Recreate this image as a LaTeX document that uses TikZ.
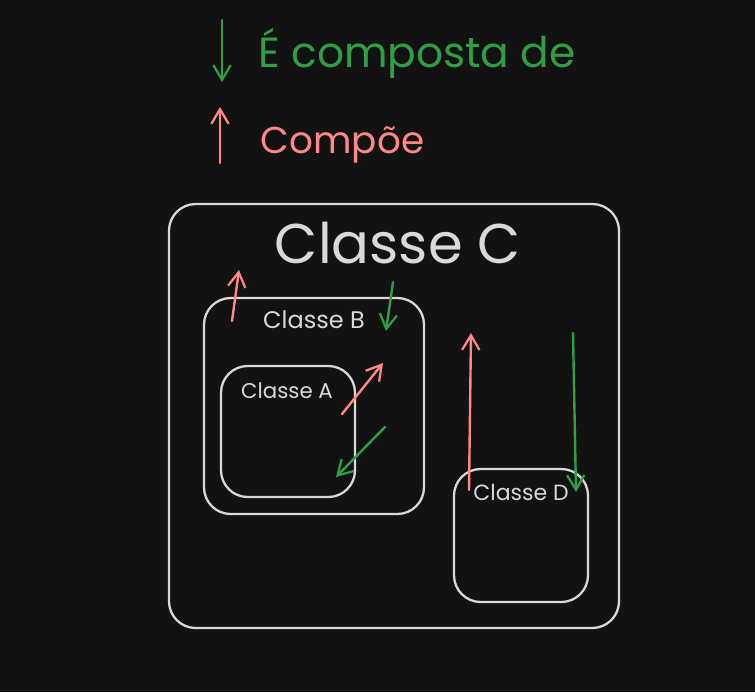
\documentclass[tikz,border=0pt]{standalone}
\usepackage{fontspec}
\setmainfont{Poppins}
\usepackage{xcolor}
\usepackage{tikz}
\usetikzlibrary{arrows.meta}
\definecolor{bg}{HTML}{121212}
\definecolor{chalk}{HTML}{D9D9D9}
\definecolor{leafgreen}{HTML}{2F9E44}
\definecolor{salmon}{HTML}{FF8787}
\newcommand{\pxu}{0.75pt}
\tikzset{
  >={Straight Barb[length=11pt,width=13pt,line width=1.7pt]},
  classbox/.style={draw=chalk,rounded corners=20pt,line width=1.7pt,inner sep=0pt},
  classname/.style={text=chalk,anchor=base},
  legendtext/.style={anchor=base west},
  composes/.style={->,line width=1.8pt,color=salmon,line cap=round},
  madeof/.style={->,line width=1.8pt,color=leafgreen,line cap=round},
}

\begin{document}
\begin{tikzpicture}[x=0.75pt,y=-0.75pt]
  \fill[bg] (0,0) rectangle (755,692);

  \coordinate (keyDownTop) at (222,20);
  \coordinate (keyDownEnd) at (222,82);
  \draw[madeof] (keyDownTop) -- (keyDownEnd);
  \node[legendtext,text=leafgreen,font=\fontsize{31.7}{36}\selectfont] (keyMadeOf) at (254,68) {É composta de};
  \coordinate (keyUpTail) at (220,163);
  \coordinate (keyUpEnd) at (220,107);
  \draw[composes] (keyUpTail) -- (keyUpEnd);
  \node[legendtext,text=salmon,font=\fontsize{28}{33}\selectfont] (keyComposes) at (256,153) {Compõe};

  \node[classbox,minimum width=450*\pxu,minimum height=424*\pxu] (clsC) at (394,416) {};
  \node[classname,font=\fontsize{42}{48}\selectfont] (nameC) at (398,263) {Classe C};

  \node[classbox,minimum width=220*\pxu,minimum height=216*\pxu] (clsB) at (314,406) {};
  \node[classname,font=\fontsize{18}{22}\selectfont] (nameB) at (314,328) {Classe B};

  \node[classbox,minimum width=134*\pxu,minimum height=131*\pxu] (clsA) at (288,431.5) {};
  \node[classname,font=\fontsize{16}{20}\selectfont] (nameA) at (287,398) {Classe A};

  \node[classbox,minimum width=134*\pxu,minimum height=133*\pxu] (clsD) at (521,535.5) {};
  \node[classname,font=\fontsize{16.5}{20}\selectfont] (nameD) at (521,500) {Classe D};

  \coordinate (bUpTail) at (232,321);
  \coordinate (bUpHead) at (239,270);
  \draw[composes] (bUpTail) -- (bUpHead);
  \coordinate (bDownTail) at (393,282);
  \coordinate (bDownHead) at (386,331);
  \draw[madeof] (bDownTail) -- (bDownHead);

  \coordinate (aUpTail) at (342,414);
  \coordinate (aUpHead) at (383,363);
  \draw[composes] (aUpTail) -- (aUpHead);
  \coordinate (aDownTail) at (385,427);
  \coordinate (aDownHead) at (336,477);
  \draw[madeof] (aDownTail) -- (aDownHead);

  \coordinate (dUpTail) at (469,490);
  \coordinate (dUpHead) at (471,333);
  \draw[composes] (dUpTail) -- (dUpHead);
  \coordinate (dDownTail) at (573,333);
  \coordinate (dDownHead) at (576,492);
  \draw[madeof] (dDownTail) -- (dDownHead);
\end{tikzpicture}
\end{document}
